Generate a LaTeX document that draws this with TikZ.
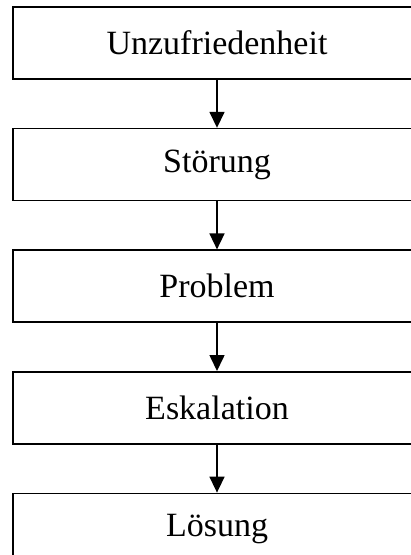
\documentclass[tikz,border=0pt]{standalone}
\usepackage{fontspec}
\setmainfont{Liberation Serif}
\usetikzlibrary{arrows.meta, positioning}

\begin{document}
\begin{tikzpicture}[
            x=1pt, y=1pt,
            node distance=48pt,
            >={Triangle[width=15pt,length=16pt]},
            stage/.style={rectangle, draw=black, line width=1.6pt, minimum width=408pt, minimum height=72pt, inner sep=0pt, font=\fontsize{34}{40}\selectfont},
            flow/.style={->, line width=1.6pt}
        ]
            \useasboundingbox (0,0) rectangle (411,-555);
            \clip (0,0) rectangle (411,-555);
            \node (unzuf) [stage] at (217,-43) {Unzufriedenheit};
            \node (stoer) [stage, below=of unzuf] {Störung};
            \node (probl) [stage, below=of stoer] {Problem};
            \node (eskal) [stage, below=of probl] {Eskalation};
            \node (loes) [stage, below=of eskal] {Lösung};

            \draw[flow] (unzuf) -- (stoer);
            \draw[flow] (stoer) -- (probl);
            \draw[flow] (probl) -- (eskal);
            \draw[flow] (eskal) -- (loes);
        \end{tikzpicture}
\end{document}
